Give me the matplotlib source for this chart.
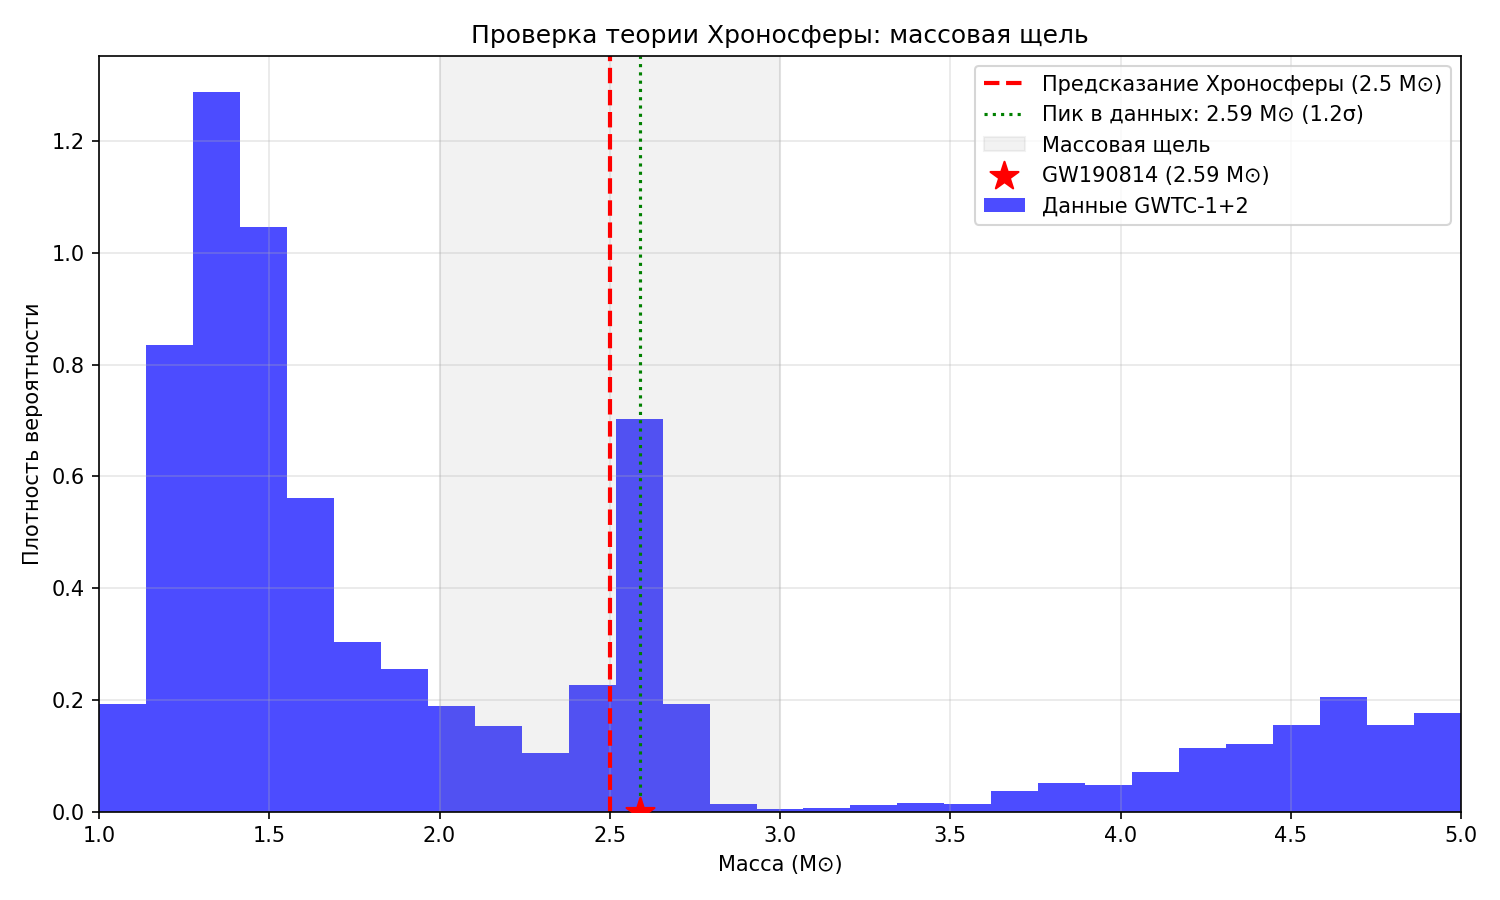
import numpy as np
import matplotlib
matplotlib.use('Agg')
import matplotlib.pyplot as plt

# histogram bins (29 equal bins between 1 and 5 Msun)
bin_edges = np.linspace(1.0, 5.0, 30)
density = [0.193, 0.835, 1.288, 1.046, 0.562, 0.303, 0.255, 0.189, 0.153, 0.105,
           0.227, 0.703, 0.193, 0.014, 0.005, 0.007, 0.012, 0.016, 0.014, 0.037,
           0.052, 0.048, 0.071, 0.115, 0.122, 0.155, 0.205, 0.155, 0.176]

pred_mass = 2.5
peak_mass = 2.59
peak_sigma = 1.2
gap_lo, gap_hi = 2.0, 3.0
gw_mass = 2.59

fig, ax = plt.subplots(figsize=(10, 6), dpi=150)

centers = (bin_edges[:-1] + bin_edges[1:]) / 2
_, _, bars = ax.hist(centers, bins=bin_edges, weights=density, color='blue',
                     alpha=0.7, label='Данные GWTC-1+2')
ax.axvline(pred_mass, color='red', linestyle='--', linewidth=2,
           label=f'Предсказание Хроносферы ({pred_mass} M⊙)')
ax.axvline(peak_mass, color='green', linestyle=':', linewidth=1.5,
           label=f'Пик в данных: {peak_mass} M⊙ ({peak_sigma}σ)')
ax.axvspan(gap_lo, gap_hi, color='gray', alpha=0.1, label='Массовая щель')
ax.scatter([gw_mass], [0], color='red', marker='*', s=200, zorder=5,
           label=f'GW190814 ({gw_mass} M⊙)')

ax.set_xlim(1.0, 5.0)
ax.set_xlabel('Масса (M⊙)')
ax.set_ylabel('Плотность вероятности')
ax.set_title('Проверка теории Хроносферы: массовая щель')
ax.grid(True, alpha=0.3)

# hist goes last in the legend
handles, labels = ax.get_legend_handles_labels()
order = [1, 2, 3, 4, 0]
ax.legend([handles[i] for i in order], [labels[i] for i in order], loc='upper right')

plt.subplots_adjust(left=0.066, right=0.974, top=0.938, bottom=0.098)
plt.savefig('out.png')
